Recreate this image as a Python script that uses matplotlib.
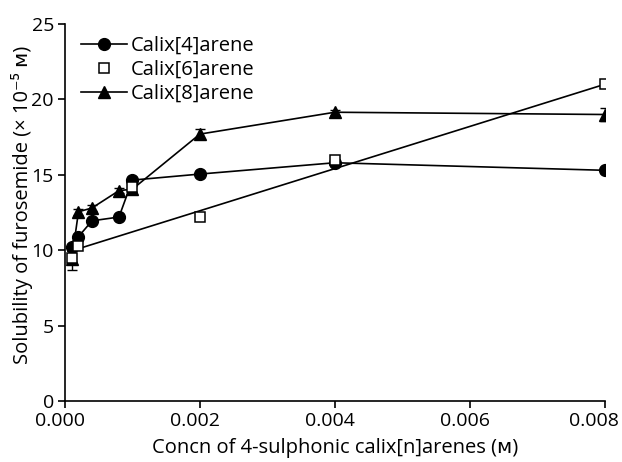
import matplotlib
matplotlib.use("Agg")
import matplotlib.pyplot as plt
import matplotlib.transforms as mtransforms
from matplotlib.lines import Line2D

plt.rcParams['font.family'] = ['Open Sans', 'DejaVu Sans']

# concentrations (M)
x4 = [0.0001, 0.0002, 0.0004, 0.0008, 0.001, 0.002, 0.004, 0.008]
y4 = [10.2, 10.9, 11.95, 12.2, 14.65, 15.05, 15.8, 15.3]
e4 = [0.2, 0.2, 0.15, 0.15, 0.2, 0.2, 0.15, 0.15]

x6 = [0.0001, 0.0002, 0.001, 0.002, 0.004, 0.008]
y6 = [9.5, 10.3, 14.2, 12.2, 16.0, 21.05]
e6 = [0.45, 0.3, 0.3, 0.25, 0.2, 0.25]

x8 = [0.0001, 0.0002, 0.0004, 0.0008, 0.001, 0.002, 0.004, 0.008]
y8 = [9.4, 12.55, 12.8, 13.95, 14.05, 17.7, 19.15, 19.0]
e8 = [0.7, 0.2, 0.2, 0.15, 0.2, 0.35, 0.15, 0.4]

# linear fit line for calix[6]arene (end points)
fit6_x = [0.0002, 0.008]
fit6_y = [10.1, 21.0]

fig = plt.figure(figsize=(6.22, 4.62), dpi=100)
ax = fig.add_axes([0.1045, 0.132, 0.8675, 0.816])

ax.errorbar(x4, y4, yerr=e4, color='black', marker='o', ms=8.5, lw=1.2,
            capsize=3.5, elinewidth=1, zorder=3)
ax.plot(fit6_x, fit6_y, color='black', lw=1.2, zorder=2)
ax.errorbar(x6, y6, yerr=e6, color='black', marker='s', ms=7, ls='none',
            mfc='white', mec='black', mew=1.1, capsize=3.5, elinewidth=1,
            zorder=4)
ax.errorbar(x8, y8, yerr=e8, color='black', marker='^', ms=8.5, lw=1.2,
            capsize=3.5, elinewidth=1, zorder=3)

ax.set_xlim(0, 0.008)
ax.set_ylim(0, 25)
ax.set_xticks([0, 0.002, 0.004, 0.006, 0.008])
ax.set_xticklabels(['0.000', '0.002', '0.004', '0.006', '0.008'])
ax.set_yticks([0, 5, 10, 15, 20, 25])
ax.spines['top'].set_visible(False)
ax.spines['right'].set_visible(False)
for sp in ax.spines.values():
    sp.set_linewidth(1.2)
ax.tick_params(direction='out', length=5, width=1.2, labelsize=14, pad=3)
xlabs = ax.get_xticklabels()
for i, lab in enumerate(xlabs):
    dx = -11 if i == len(xlabs) - 1 else -5
    lab.set_transform(lab.get_transform() +
                      mtransforms.ScaledTranslation(dx / 100, 0, fig.dpi_scale_trans))

ax.set_xlabel('Concn of 4-sulphonic calix[n]arenes (ᴍ)', fontsize=14.5, labelpad=6)
ax.set_ylabel('Solubility of furosemide (× 10⁻⁵ ᴍ)', fontsize=14.5)
ax.yaxis.set_label_coords(-0.06, 0.52)

handles = [
    Line2D([], [], color='black', marker='o', ms=8.5, lw=1.2),
    Line2D([], [], color='black', marker='s', ms=7, ls='none', mfc='white', mew=1.1),
    Line2D([], [], color='black', marker='^', ms=8.5, lw=1.2),
]
labels = ['Calix[4]arene', 'Calix[6]arene', 'Calix[8]arene']
ax.legend(handles, labels, loc='upper left', bbox_to_anchor=(0.007, 1.0),
          frameon=False, fontsize=14.5, handlelength=2.3, handletextpad=0.2,
          labelspacing=0.2, borderaxespad=0.2)

fig.savefig('out.png', dpi=100)
